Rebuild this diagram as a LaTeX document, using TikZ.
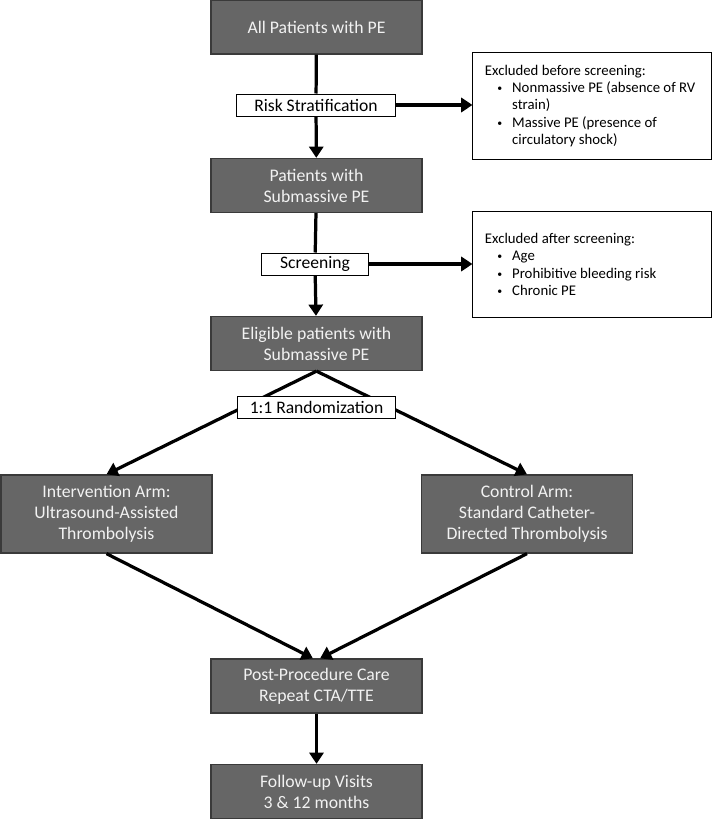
\documentclass[tikz,border=0pt]{standalone}
\usepackage{fontspec}
\setmainfont{Carlito}
\usepackage{tikz}
\usetikzlibrary{positioning, arrows.meta}
\usepackage{xcolor}
\definecolor{boxgray}{HTML}{666666}
\definecolor{boxedge}{HTML}{3A3A3A}
\definecolor{boxtext}{HTML}{F2F2F2}
\newenvironment{exlist}{\begin{list}{\raisebox{0.15ex}{\scriptsize\textbullet}}{%
  \setlength{\leftmargin}{0.68cm}\setlength{\labelsep}{0.25cm}%
  \setlength{\topsep}{0pt}\setlength{\partopsep}{0pt}%
  \setlength{\parsep}{0pt}\setlength{\itemsep}{0pt}}}{\end{list}}

\begin{document}
\begin{tikzpicture}[x=0.025cm, y=-0.025cm,
  stage/.style={draw=boxedge, line width=0.9pt, fill=boxgray, text=boxtext,
    minimum width=5.275cm, minimum height=1.35cm, align=flush center, inner sep=2pt,
    font=\fontsize{12.6}{15}\selectfont},
  arm/.style={stage, minimum height=1.95cm},
  tag/.style={draw=black, line width=0.7pt, fill=white, minimum height=0.55cm,
    inner sep=1pt, font=\fontsize{12.5}{14}\selectfont},
  exclbox/.style={draw=black, line width=0.7pt, fill=white, text width=5.35cm,
    minimum height=2.65cm, inner xsep=0.3cm, align=flush left,
    font=\fontsize{10.5}{12.4}\selectfont},
  link/.style={line width=2.3pt},
  flow/.style={link, -{Triangle[length=8pt, width=10pt]}}
]
\useasboundingbox (0,0) rectangle (712,819);

% Main stages
\node[stage] (AllPE) at (316.5,27) {All Patients with PE};
\node[tag, minimum width=3.95cm] (Risk) at (316,105) {Risk Stratification};
\node[stage] (SubPE) at (316.5,185.5) {Patients with\\Submassive PE};
\node[tag, minimum width=2.65cm] (Screen) at (315,264) {Screening};
\node[stage] (Elig) at (316.5,343.5) {Eligible patients with\\Submassive PE};

% Study arms
\node[arm] (IntArm) at (106.5,514) {Intervention Arm:\\Ultrasound-Assisted\\Thrombolysis};
\node[arm] (CtrlArm) at (527,514) {Control Arm:\\Standard Catheter-\\Directed Thrombolysis};

% After the procedure
\node[stage] (Post) at (316.5,686) {Post-Procedure Care\\Repeat CTA/TTE};
\node[stage] (Follow) at (316.5,791.5) {Follow-up Visits\\3 \& 12 months};

% Exclusions
\node[exclbox] (Ex1) at (592,106) {Excluded before screening:
  \begin{exlist}
  \item Nonmassive PE (absence of RV\newline strain)
  \item Massive PE (presence of\newline circulatory shock)
  \end{exlist}};
\node[exclbox] (Ex2) at (592,264.5) {Excluded after screening:
  \begin{exlist}
  \item Age
  \item Prohibitive bleeding risk
  \item Chronic PE
  \end{exlist}};

% Flow arrows
\draw[link] (AllPE) -- (Risk);
\draw[flow] (Risk) -- (SubPE);
\draw[flow] (Risk.east) -- (Risk.east -| Ex1.west);
\draw[link] (SubPE) -- (Screen);
\draw[flow] (Screen) -- (Elig);
\draw[flow] (Screen.east) -- (Screen.east -| Ex2.west);
\draw[flow] (Elig.south) -- (IntArm.north);
\draw[flow] (Elig.south) -- (CtrlArm.north);
\node[tag, minimum width=3.925cm] (Rand) at (316.5,407.5) {1:1 Randomization};
\draw[flow] (IntArm.south) -- ([xshift=-0.09cm]Post.north);
\draw[flow] (CtrlArm.south) -- ([xshift=0.09cm]Post.north);
\draw[flow] (Post) -- (Follow);
\end{tikzpicture}
\end{document}
